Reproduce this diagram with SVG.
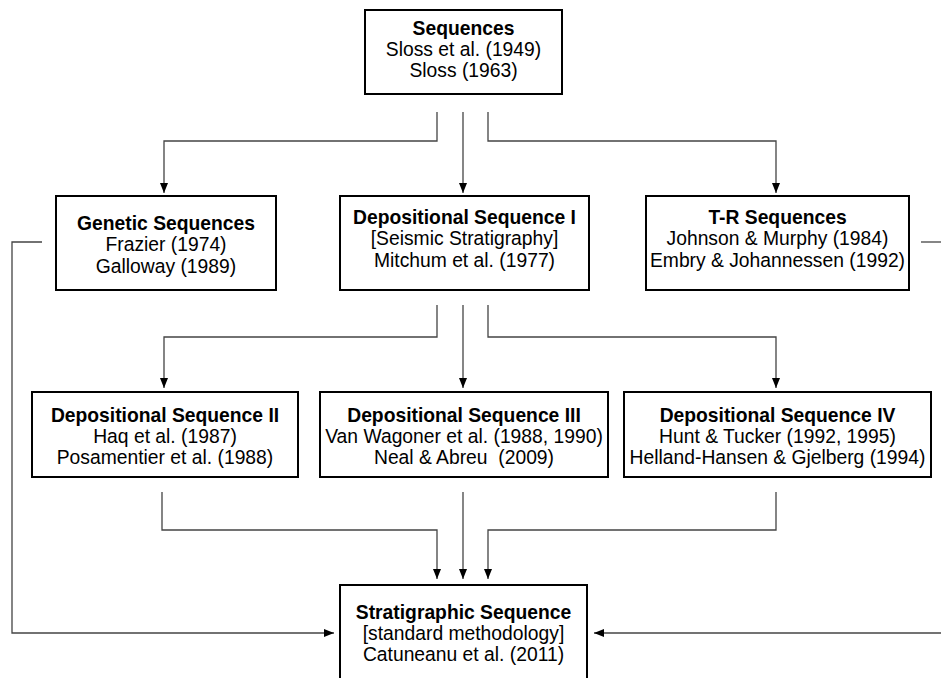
<svg xmlns="http://www.w3.org/2000/svg" width="941" height="678" viewBox="0 0 941 678">
<style>
.box{fill:#fff;stroke:#000;stroke-width:2}
.t{font-family:"Liberation Sans",Arial,sans-serif;font-size:19.3px;fill:#000;text-anchor:middle}
.b{font-weight:bold}
.c{fill:none;stroke:#444;stroke-width:1.3}
</style>
<defs>
<marker id="ah" markerUnits="userSpaceOnUse" markerWidth="10" markerHeight="10" viewBox="0 0 10 10" refX="10" refY="5" orient="auto">
<path d="M0,1 L10,5 L0,9 Z" fill="#000"/>
</marker>
</defs>
<rect width="941" height="678" fill="#fff"/>
<g id="connectors">
<path class="c" d="M437,112 V141 H164 V193" marker-end="url(#ah)"/>
<path class="c" d="M463,112 V193" marker-end="url(#ah)"/>
<path class="c" d="M488,112 V141 H776 V193" marker-end="url(#ah)"/>
<path class="c" d="M437,305 V337 H164 V388" marker-end="url(#ah)"/>
<path class="c" d="M463,305 V388" marker-end="url(#ah)"/>
<path class="c" d="M488,305 V337 H776 V388" marker-end="url(#ah)"/>
<path class="c" d="M162,492 V530 H437 V579" marker-end="url(#ah)"/>
<path class="c" d="M463,492 V579" marker-end="url(#ah)"/>
<path class="c" d="M776,492 V530 H488 V579" marker-end="url(#ah)"/>
<path class="c" d="M42,242 H12 V633 H334" marker-end="url(#ah)"/>
<path class="c" d="M921,242 H941"/>
<path class="c" d="M941,633 H594" marker-end="url(#ah)"/>
</g>
<g id="sequences">
<rect class="box" x="365" y="10" width="197" height="84"/>
<text class="t b" x="463.5" y="35">Sequences</text>
<text class="t" x="463.5" y="56">Sloss et al. (1949)</text>
<text class="t" x="463.5" y="77">Sloss (1963)</text>
</g>
<g id="genetic">
<rect class="box" x="56" y="196" width="220" height="94"/>
<text class="t b" x="166" y="229.5">Genetic Sequences</text>
<text class="t" x="166" y="251">Frazier (1974)</text>
<text class="t" x="166" y="272.5">Galloway (1989)</text>
</g>
<g id="dep1">
<rect class="box" x="340" y="196" width="249" height="94"/>
<text class="t b" x="464.5" y="223.5">Depositional Sequence I</text>
<text class="t" x="464.5" y="245">[Seismic Stratigraphy]</text>
<text class="t" x="464.5" y="266.5">Mitchum et al. (1977)</text>
</g>
<g id="tr">
<rect class="box" x="646" y="196" width="263" height="94"/>
<text class="t b" x="777.5" y="223.5">T-R Sequences</text>
<text class="t" x="777.5" y="245">Johnson &amp; Murphy (1984)</text>
<text class="t" x="777.5" y="266.5">Embry &amp; Johannessen (1992)</text>
</g>
<g id="dep2">
<rect class="box" x="32" y="392" width="266" height="85"/>
<text class="t b" x="165" y="422">Depositional Sequence II</text>
<text class="t" x="165" y="443">Haq et al. (1987)</text>
<text class="t" x="165" y="464">Posamentier et al. (1988)</text>
</g>
<g id="dep3">
<rect class="box" x="320" y="392" width="288" height="85"/>
<text class="t b" x="464" y="422">Depositional Sequence III</text>
<text class="t" x="464" y="443">Van Wagoner et al. (1988, 1990)</text>
<text class="t" x="464" y="464" xml:space="preserve">Neal &amp; Abreu  (2009)</text>
</g>
<g id="dep4">
<rect class="box" x="624" y="392" width="307" height="85"/>
<text class="t b" x="777.5" y="422">Depositional Sequence IV</text>
<text class="t" x="777.5" y="443">Hunt &amp; Tucker (1992, 1995)</text>
<text class="t" x="777.5" y="464">Helland-Hansen &amp; Gjelberg (1994)</text>
</g>
<g id="stratigraphic">
<rect class="box" x="340" y="585" width="247" height="110"/>
<text class="t b" x="463.5" y="618.5">Stratigraphic Sequence</text>
<text class="t" x="463.5" y="640">[standard methodology]</text>
<text class="t" x="463.5" y="661">Catuneanu et al. (2011)</text>
</g>
</svg>
